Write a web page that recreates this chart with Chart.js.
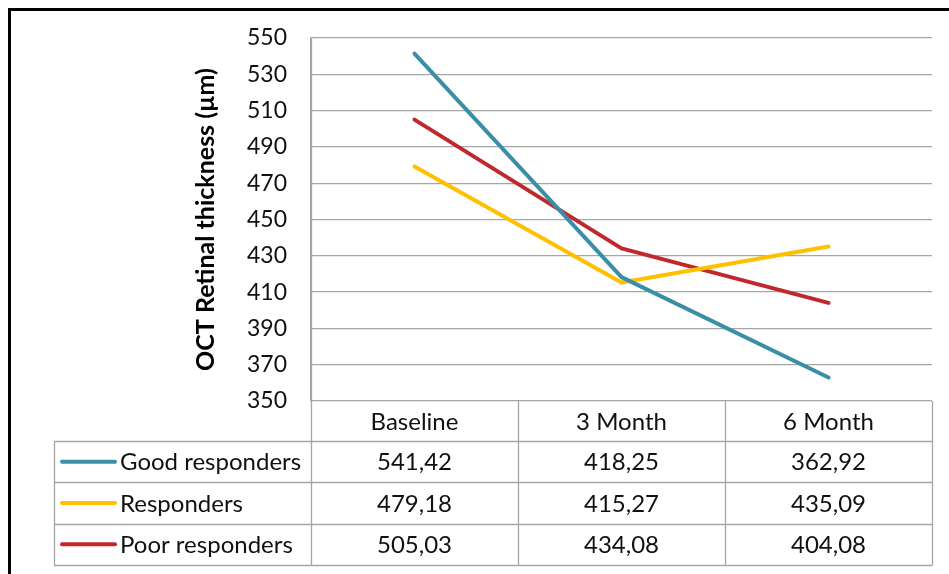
<!DOCTYPE html>
<html>
<head>
<meta charset="utf-8">
<script src="https://cdn.jsdelivr.net/npm/chart.js@4.4.1/dist/chart.umd.min.js"></script>
<style>
  html, body { margin: 0; padding: 0; background: #fff; }
  #wrap { position: relative; width: 949px; height: 574px; }
  #frame { position: absolute; left: 8px; top: 8px; width: 960px; height: 600px;
           border-left: 3px solid #000; border-top: 3px solid #000; box-sizing: border-box; }
  canvas { position: absolute; left: 0; top: 0; }
</style>
</head>
<body>
<div id="wrap">
  <div id="frame"></div>
  <canvas id="c" width="949" height="574"></canvas>
</div>
<script>
// Follow-up time points
const categories = ['Baseline', '3 Month', '6 Month'];
// Mean OCT retinal thickness (µm) per group
const goodResponders = [541.42, 418.25, 362.92];
const responders = [479.18, 415.27, 435.09];
const poorResponders = [505.03, 434.08, 404.08];
const seriesNames = ['Good responders', 'Responders', 'Poor responders'];
const yTicks = [350, 370, 390, 410, 430, 450, 470, 490, 510, 530, 550];

const colors = ['#3A8FA6', '#FFC000', '#C0282E'];
const FONT = 'Lato, "Open Sans", sans-serif';
const GRID = '#A6A6A6';

function fmt(v) { return v.toFixed(2).replace('.', ','); }

// Data table drawn under the plot, aligned to the category scale
const dataTable = {
  id: 'dataTable',
  afterDraw(chart) {
    const ctx = chart.ctx;
    const xs = chart.scales.x;
    const area = chart.chartArea;
    const n = categories.length;
    const band = (area.right - area.left) / n;
    const edges = [];
    for (let i = 0; i <= n; i++) edges.push(area.left + band * i);
    const headerH = 40, rowH = 41.3;
    const top = area.bottom;
    const rowTops = [top + headerH, top + headerH + rowH, top + headerH + 2 * rowH, top + headerH + 3 * rowH];
    const tableLeft = 54;
    const bottom = rowTops[3];

    ctx.save();
    ctx.strokeStyle = GRID;
    ctx.lineWidth = 1.3;
    ctx.beginPath();
    // vertical column dividers
    edges.forEach((x, i) => {
      const xx = Math.round(x) + 0.5;
      ctx.moveTo(xx, i === 0 ? area.top : top);
      ctx.lineTo(xx, bottom);
    });
    // row lines
    rowTops.forEach(y => {
      const yy = Math.round(y) + 0.5;
      ctx.moveTo(tableLeft, yy);
      ctx.lineTo(Math.round(area.right) + 0.5, yy);
    });
    ctx.moveTo(tableLeft + 0.5, Math.round(rowTops[0]) + 0.5);
    ctx.lineTo(tableLeft + 0.5, Math.round(bottom) + 0.5);
    ctx.stroke();

    ctx.fillStyle = '#111';
    ctx.font = '24px ' + FONT;
    ctx.textBaseline = 'middle';
    ctx.textAlign = 'center';
    categories.forEach((c, i) => {
      ctx.fillText(c, xs.getPixelForValue(i), top + headerH / 2 + 1);
    });
    const series = [goodResponders, responders, poorResponders];
    series.forEach((vals, r) => {
      const cy = rowTops[r] + rowH / 2 + 1;
      vals.forEach((v, i) => {
        ctx.textAlign = 'center';
        ctx.fillText(fmt(v), xs.getPixelForValue(i), cy);
      });
      // legend key
      ctx.save();
      ctx.strokeStyle = colors[r];
      ctx.lineWidth = 4;
      ctx.lineCap = 'round';
      ctx.beginPath();
      ctx.moveTo(62, cy - 1);
      ctx.lineTo(115, cy - 1);
      ctx.stroke();
      ctx.restore();
      ctx.textAlign = 'left';
      ctx.fillText(seriesNames[r], 120, cy);
    });
    ctx.restore();
  }
};

const datasets = [goodResponders, responders, poorResponders].map((d, i) => ({
  label: seriesNames[i],
  data: d,
  borderColor: colors[i],
  backgroundColor: colors[i],
  borderWidth: 4,
  borderCapStyle: 'round',
  borderJoinStyle: 'round',
  pointRadius: 0,
  tension: 0,
  fill: false
}));

new Chart(document.getElementById('c'), {
  type: 'line',
  data: { labels: categories, datasets },
  options: {
    responsive: false,
    animation: false,
    layout: { padding: { left: 0, top: 38, right: 17, bottom: 173 } },
    plugins: { legend: { display: false }, tooltip: { enabled: false } },
    scales: {
      x: {
        type: 'category',
        offset: true,
        display: false
      },
      y: {
        min: 350,
        max: 550,
        afterBuildTicks(scale) { scale.ticks = yTicks.map(v => ({ value: v })); },
        afterFit(scale) { scale.width = 311; },
        border: { display: true, color: GRID, width: 1.3 },
        grid: { color: GRID, lineWidth: 1.3, drawTicks: false },
        ticks: {
          padding: 24,
          color: '#111',
          font: { family: FONT, size: 23 }
        },
        title: {
          display: true,
          text: 'OCT Retinal thickness (µm)',
          color: '#000',
          font: { family: FONT, size: 25, weight: 'bold' },
          padding: { top: 191, bottom: 0 }
        }
      }
    }
  },
  plugins: [dataTable]
});
</script>
</body>
</html>
